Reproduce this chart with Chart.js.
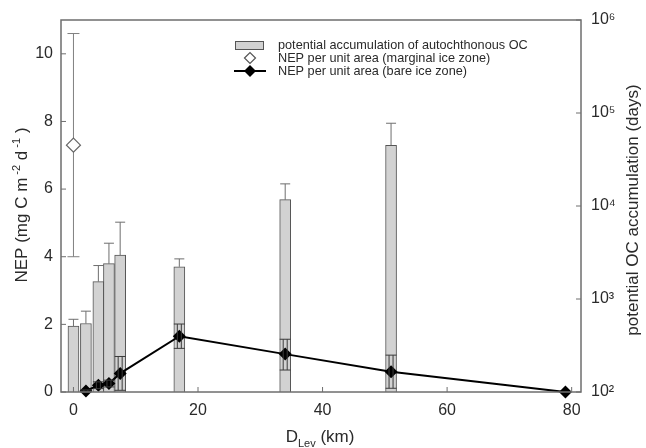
<!DOCTYPE html>
<html>
<head>
<meta charset="utf-8">
<script src="https://cdn.jsdelivr.net/npm/chart.js@4/dist/chart.umd.min.js"></script>
<style>
  html, body { margin: 0; padding: 0; background: #fff; }
  #wrap { width: 646px; height: 448px; }
</style>
</head>
<body>
<div id="wrap"><canvas id="c" width="646" height="448"></canvas></div>
<script>
// ---- data ----
const barX = [0, 2, 4, 5.7, 7.5, 17, 34, 51];
const accumDays = [510, 545, 1540, 2400, 2960, 2220, 11700, 45000];
const accumDaysUpper = [605, 740, 2290, 3980, 6700, 2700, 17300, 77600];

const marginalX = [0];
const nepMarginal = [7.3];
const nepMarginalLow = [4.0];
const nepMarginalHigh = [10.6];

const bareX = [2, 4, 5.7, 7.5, 17, 34, 51, 79];
const nepBare = [0.03, 0.2, 0.25, 0.55, 1.65, 1.12, 0.6, 0.0];
const nepBareLow = [0.0, 0.1, 0.15, 0.05, 1.29, 0.65, 0.11, 0.0];
const nepBareHigh = [0.06, 0.3, 0.35, 1.05, 2.01, 1.56, 1.09, 0.0];

const xTicks = [0, 20, 40, 60, 80];
const yTicks = [0, 2, 4, 6, 8, 10];
const y2Ticks = [100, 1000, 10000, 100000, 1000000];
const y2TickLabels = ['10\u00B2', '10\u00B3', '10\u2074', '10\u2075', '10\u2076'];

const legendLabels = [
  'potential accumulation of autochthonous OC',
  'NEP per unit area (marginal ice zone)',
  'NEP per unit area (bare ice zone)'
];

const FONT = '"Liberation Sans", Arial, sans-serif';
const TXT = '#2a2a2a';
const AXIS = '#6e6e6e';

function diamond(ctx, x, y, r) {
  ctx.beginPath();
  ctx.moveTo(x - r, y); ctx.lineTo(x, y - r); ctx.lineTo(x + r, y); ctx.lineTo(x, y + r);
  ctx.closePath();
}

const decor = {
  id: 'decor',
  beforeDatasetsDraw(chart) {
    const ctx = chart.ctx;
    const xs = chart.scales.x, ys = chart.scales.y, y2 = chart.scales.y2;
    ctx.save();
    ctx.strokeStyle = AXIS; ctx.lineWidth = 1;
    for (let i = 0; i < barX.length; i++) {
      const px = xs.getPixelForValue(barX[i]);
      const top = y2.getPixelForValue(accumDays[i]);
      const cap = y2.getPixelForValue(accumDaysUpper[i]);
      ctx.beginPath();
      ctx.moveTo(px, top); ctx.lineTo(px, cap);
      ctx.moveTo(px - 5, cap); ctx.lineTo(px + 5, cap);
      ctx.stroke();
    }
    ctx.strokeStyle = '#808080';
    for (let i = 0; i < marginalX.length; i++) {
      const px = xs.getPixelForValue(marginalX[i]);
      const lo = ys.getPixelForValue(nepMarginalLow[i]);
      const hi = ys.getPixelForValue(nepMarginalHigh[i]);
      ctx.beginPath();
      ctx.moveTo(px, lo); ctx.lineTo(px, hi);
      ctx.moveTo(px - 6, lo); ctx.lineTo(px + 6, lo);
      ctx.moveTo(px - 6, hi); ctx.lineTo(px + 6, hi);
      ctx.stroke();
    }
    ctx.restore();
  },
  afterDatasetsDraw(chart) {
    const ctx = chart.ctx, a = chart.chartArea;
    const xs = chart.scales.x, ys = chart.scales.y, y2 = chart.scales.y2;
    ctx.save();
    ctx.strokeStyle = '#3a3a3a'; ctx.lineWidth = 1;
    for (let i = 0; i < bareX.length; i++) {
      if (nepBareHigh[i] === nepBareLow[i]) continue;
      const px = xs.getPixelForValue(bareX[i]);
      const lo = ys.getPixelForValue(nepBareLow[i]);
      const hi = ys.getPixelForValue(nepBareHigh[i]);
      ctx.beginPath();
      ctx.moveTo(px - 2, lo); ctx.lineTo(px - 2, hi);
      ctx.moveTo(px + 2, lo); ctx.lineTo(px + 2, hi);
      ctx.moveTo(px - 5.5, lo); ctx.lineTo(px + 5.5, lo);
      ctx.moveTo(px - 5.5, hi); ctx.lineTo(px + 5.5, hi);
      ctx.stroke();
    }
    // frame
    ctx.strokeStyle = AXIS; ctx.lineWidth = 1.5;
    ctx.strokeRect(a.left, a.top, a.right - a.left, a.bottom - a.top);
    // inward ticks
    ctx.lineWidth = 1;
    ctx.beginPath();
    xTicks.forEach(v => { const p = xs.getPixelForValue(v); ctx.moveTo(p, a.bottom); ctx.lineTo(p, a.bottom - 5); });
    yTicks.forEach(v => { const p = ys.getPixelForValue(v); ctx.moveTo(a.left, p); ctx.lineTo(a.left + 5, p); });
    y2Ticks.forEach(v => { const p = y2.getPixelForValue(v); ctx.moveTo(a.right, p); ctx.lineTo(a.right - 5, p); });
    ctx.stroke();

    // legend
    ctx.fillStyle = '#d2d2d2'; ctx.strokeStyle = '#555'; ctx.lineWidth = 1;
    ctx.fillRect(235.5, 41.5, 28, 8); ctx.strokeRect(235.5, 41.5, 28, 8);
    ctx.fillStyle = '#fff'; ctx.strokeStyle = '#555'; ctx.lineWidth = 1.2;
    diamond(ctx, 250, 58, 5.5); ctx.fill(); ctx.stroke();
    ctx.strokeStyle = '#000'; ctx.lineWidth = 2;
    ctx.beginPath(); ctx.moveTo(234, 71); ctx.lineTo(266, 71); ctx.stroke();
    ctx.fillStyle = '#000';
    diamond(ctx, 250, 71, 6); ctx.fill();
    ctx.fillStyle = TXT; ctx.font = '12.7px ' + FONT;
    ctx.textBaseline = 'middle'; ctx.textAlign = 'left';
    ctx.fillText(legendLabels[0], 278, 45.5);
    ctx.fillText(legendLabels[1], 278, 58.5);
    ctx.fillText(legendLabels[2], 278, 71.5);

    // bottom title: D_Lev (km)
    ctx.textBaseline = 'alphabetic';
    const big = '17px ' + FONT, small = '11px ' + FONT;
    let parts = [['D', big, 0], ['Lev', small, 5], [' (km)', big, 0]];
    let w = 0;
    parts.forEach(p => { ctx.font = p[1]; w += ctx.measureText(p[0]).width; });
    let x0 = 320 - w / 2, yb = 442;
    parts.forEach(p => { ctx.font = p[1]; ctx.fillText(p[0], x0, yb + p[2]); x0 += ctx.measureText(p[0]).width; });

    // left title: NEP (mg C m-2 d-1)
    ctx.save();
    ctx.translate(27, 205);
    ctx.rotate(-Math.PI / 2);
    parts = [['NEP (mg C m', big, 0], [' -2', small, -7], [' d', big, 0], [' -1', small, -7], [' )', big, 0]];
    w = 0;
    parts.forEach(p => { ctx.font = p[1]; w += ctx.measureText(p[0]).width; });
    x0 = -w / 2;
    parts.forEach(p => { ctx.font = p[1]; ctx.fillText(p[0], x0, p[2]); x0 += ctx.measureText(p[0]).width; });
    ctx.restore();

    // right title
    ctx.save();
    ctx.translate(638, 210);
    ctx.rotate(-Math.PI / 2);
    ctx.font = '17px ' + FONT; ctx.textAlign = 'center';
    ctx.fillText('potential OC accumulation (days)', 0, 0);
    ctx.restore();
    ctx.restore();
  }
};

const chart = new Chart(document.getElementById('c'), {
  type: 'bar',
  data: {
    datasets: [
      {
        type: 'line',
        label: legendLabels[2],
        data: bareX.map((x, i) => ({ x, y: nepBare[i] })),
        yAxisID: 'y',
        borderColor: '#000',
        backgroundColor: '#000',
        borderWidth: 2,
        pointStyle: 'rectRot',
        pointRadius: 6.5,
        pointBackgroundColor: '#000',
        pointBorderColor: '#000',
        pointBorderWidth: 0,
        tension: 0,
        clip: false,
        order: 1
      },
      {
        type: 'line',
        label: legendLabels[1],
        data: marginalX.map((x, i) => ({ x, y: nepMarginal[i] })),
        yAxisID: 'y',
        showLine: false,
        pointStyle: 'rectRot',
        pointRadius: 7,
        pointBackgroundColor: '#fff',
        pointBorderColor: '#666',
        pointBorderWidth: 1.2,
        order: 2
      },
      {
        type: 'bar',
        label: legendLabels[0],
        data: barX.map((x, i) => ({ x, y: accumDays[i] })),
        yAxisID: 'y2',
        backgroundColor: '#d2d2d2',
        borderColor: '#555',
        borderWidth: 1,
        borderSkipped: 'bottom',
        barThickness: 11,
        order: 3
      }
    ]
  },
  options: {
    responsive: false,
    animation: false,
    events: [],
    layout: { padding: { top: 20, left: 0, right: 0, bottom: 0 } },
    plugins: { legend: { display: false }, tooltip: { enabled: false } },
    scales: {
      x: {
        type: 'linear',
        min: -2, max: 81.5,
        offset: false,
        grid: { display: false, drawTicks: false },
        border: { display: false },
        afterBuildTicks: s => { s.ticks = xTicks.map(v => ({ value: v })); },
        afterFit: s => { s.height = 56; },
        ticks: { padding: 9, color: TXT, font: { family: FONT, size: 16 }, maxRotation: 0 }
      },
      y: {
        type: 'linear', position: 'left',
        min: 0, max: 11,
        grid: { display: false, drawTicks: false },
        border: { display: false },
        afterBuildTicks: s => { s.ticks = yTicks.map(v => ({ value: v })); },
        afterFit: s => { s.width = 61; },
        ticks: { padding: 8, color: TXT, font: { family: FONT, size: 16 } }
      },
      y2: {
        type: 'logarithmic', position: 'right',
        min: 100, max: 1000000,
        grid: { display: false, drawTicks: false },
        border: { display: false },
        afterBuildTicks: s => { s.ticks = y2Ticks.map(v => ({ value: v })); },
        afterFit: s => { s.width = 65; },
        ticks: {
          padding: 10, color: TXT, font: { family: FONT, size: 16 },
          callback: (v) => { const i = y2Ticks.indexOf(v); return i >= 0 ? y2TickLabels[i] : ''; }
        }
      }
    }
  },
  plugins: [decor]
});
</script>
</body>
</html>
